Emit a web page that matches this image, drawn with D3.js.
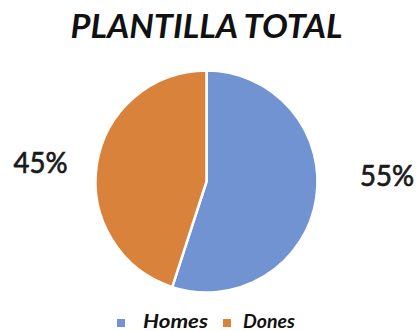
<!DOCTYPE html>
<html>
<head>
<meta charset="utf-8">
<script src="https://cdn.jsdelivr.net/npm/d3@7"></script>
<style>
  html, body { margin: 0; padding: 0; background: #ffffff; }
  svg { display: block; }
</style>
</head>
<body>
<svg id="chart" width="416" height="331"></svg>
<script>
// Staff composition by gender
const categories = ["Homes", "Dones"];
const values = [55, 45];
const percentLabels = ["55%", "45%"];
const colors = ["#7293D2", "#D9823C"];
const title = "PLANTILLA TOTAL";

const svg = d3.select("#chart");
const cx = 206.5, cy = 181.5, radius = 111;
const font = "Lato, 'Open Sans', sans-serif";

svg.append("text")
  .attr("x", 206.5)
  .attr("y", 38)
  .attr("text-anchor", "middle")
  .attr("font-family", font)
  .attr("font-weight", "bold")
  .attr("font-style", "italic")
  .attr("font-size", 32)
  .attr("textLength", 272)
  .attr("lengthAdjust", "spacingAndGlyphs")
  .attr("fill", "#111111")
  .text(title);

const pie = d3.pie().sort(null).value(d => d.value);
const arcs = pie(categories.map((c, i) => ({ name: c, value: values[i], label: percentLabels[i], color: colors[i] })));
const arc = d3.arc().innerRadius(0).outerRadius(radius);

const g = svg.append("g").attr("transform", `translate(${cx},${cy})`);
g.selectAll("path")
  .data(arcs)
  .join("path")
  .attr("d", arc)
  .attr("fill", d => d.data.color)
  .attr("stroke", "#ffffff")
  .attr("stroke-width", 2.5)
  .attr("stroke-linejoin", "round");

// Percentage labels placed outside each slice, to the side
const labelPos = [
  { x: 387, y: 186 },
  { x: 40.5, y: 173 }
];
svg.selectAll("text.pct")
  .data(arcs)
  .join("text")
  .attr("class", "pct")
  .attr("x", (d, i) => labelPos[i].x)
  .attr("y", (d, i) => labelPos[i].y)
  .attr("text-anchor", "middle")
  .attr("font-family", font)
  .attr("font-size", 29)
  .attr("textLength", 54)
  .attr("lengthAdjust", "spacingAndGlyphs")
  .attr("fill", "#1a1a1a")
  .attr("stroke", "#1a1a1a")
  .attr("stroke-width", 0.7)
  .text(d => d.data.label);

// Legend
const legendItems = [
  { sq: 117, tx: 143, w: 65 },
  { sq: 223, tx: 243, w: 52 }
];
const legend = svg.append("g");
legendItems.forEach((p, i) => {
  legend.append("rect")
    .attr("x", p.sq).attr("y", 319)
    .attr("width", 8).attr("height", 8)
    .attr("fill", colors[i]);
  legend.append("text")
    .attr("x", p.tx).attr("y", 327.5)
    .attr("font-family", font)
    .attr("font-weight", "bold")
    .attr("font-style", "italic")
    .attr("font-size", 18.5)
    .attr("textLength", p.w)
    .attr("lengthAdjust", "spacingAndGlyphs")
    .attr("fill", "#111111")
    .text(categories[i]);
});
</script>
</body>
</html>
